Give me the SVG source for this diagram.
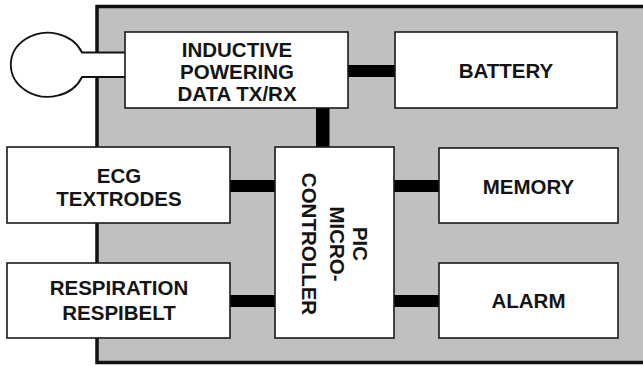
<svg xmlns="http://www.w3.org/2000/svg" width="643" height="367" viewBox="0 0 643 367">
<style>
.box{fill:#fff;stroke:#1a1a1a;stroke-width:1.6}
.bar{fill:#000}
.lbl{font-family:"Liberation Sans",Arial,sans-serif;font-weight:bold;font-size:20.5px;fill:#141414;text-anchor:middle}
</style>
<rect x="0" y="0" width="643" height="367" fill="#fff"/>
<g id="enclosure">
<rect x="97" y="6.5" width="580" height="356" fill="#c0c0c0" stroke="#111" stroke-width="3.5"/>
</g>
<g id="antenna">
<path d="M125,52.5 L82,52.5 A37,32 0 1 0 82,77 L125,77" fill="#fff" stroke="#111" stroke-width="1.8"/>
</g>
<g id="connectors">
<rect class="bar" x="348" y="65" width="47" height="12"/>
<rect class="bar" x="316" y="108" width="13.5" height="39"/>
<rect class="bar" x="230" y="180" width="45" height="12"/>
<rect class="bar" x="230" y="295" width="45" height="12"/>
<rect class="bar" x="394" y="180" width="45" height="12"/>
<rect class="bar" x="394" y="295" width="45" height="12"/>
</g>
<g id="inductive">
<rect class="box" x="125" y="32" width="223" height="76"/>
<text class="lbl" x="237" y="57">INDUCTIVE</text>
<text class="lbl" x="237" y="79">POWERING</text>
<text class="lbl" x="237" y="101">DATA TX/RX</text>
</g>
<g id="battery">
<rect class="box" x="395" y="32" width="222" height="76"/>
<text class="lbl" x="506" y="78">BATTERY</text>
</g>
<g id="ecg">
<rect class="box" x="7" y="147" width="223" height="76"/>
<text class="lbl" x="119" y="183">ECG</text>
<text class="lbl" x="119" y="206">TEXTRODES</text>
</g>
<g id="respiration">
<rect class="box" x="7" y="263" width="223" height="75"/>
<text class="lbl" x="119" y="295">RESPIRATION</text>
<text class="lbl" x="119" y="320">RESPIBELT</text>
</g>
<g id="pic">
<rect class="box" x="275" y="147" width="119" height="191"/>
<text class="lbl" transform="translate(353,244) rotate(90)">PIC</text>
<text class="lbl" transform="translate(330,244) rotate(90)">MICRO-</text>
<text class="lbl" transform="translate(302,244) rotate(90)">CONTROLLER</text>
</g>
<g id="memory">
<rect class="box" x="439" y="148" width="179" height="75"/>
<text class="lbl" x="528.5" y="194">MEMORY</text>
</g>
<g id="alarm">
<rect class="box" x="439" y="263" width="179" height="75"/>
<text class="lbl" x="528.5" y="308">ALARM</text>
</g>
</svg>
